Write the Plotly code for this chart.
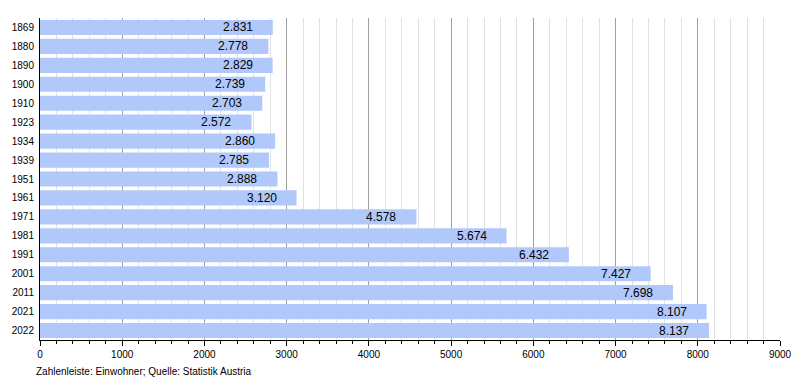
import plotly.graph_objects as go

years = ["1869", "1880", "1890", "1900", "1910", "1923", "1934", "1939", "1951",
         "1961", "1971", "1981", "1991", "2001", "2011", "2021", "2022"]
population = [2831, 2778, 2829, 2739, 2703, 2572, 2860, 2785, 2888,
              3120, 4578, 5674, 6432, 7427, 7698, 8107, 8137]
labels = [f"{v:,}".replace(",", ".") for v in population]
x_ticks = [0, 1000, 2000, 3000, 4000, 5000, 6000, 7000, 8000, 9000]

fig = go.Figure(go.Bar(
    y=years, x=population, orientation="h",
    marker=dict(color="#b1c8fa", line=dict(width=0)),
    hoverinfo="x+y",
))

# value labels: category index on the y axis, value on the x axis
for i, (x, t) in enumerate(zip(population, labels)):
    fig.add_annotation(
        x=x, y=i, xref="x", yref="y", text=t, showarrow=False,
        xanchor="right", yanchor="middle", xshift=-18,
        font=dict(family="Liberation Sans, Arial, sans-serif", size=12, color="black"),
    )

# page body has an 8px default margin, so the figure is sized/offset to compensate
fig.update_layout(
    width=792, height=372,
    margin=dict(l=32, r=20, t=10, b=40, autoexpand=False),
    plot_bgcolor="white", paper_bgcolor="white",
    bargap=0.2, showlegend=False,
    font=dict(family="Liberation Sans, Arial, sans-serif", size=10, color="black"),
)
fig.update_xaxes(
    range=[0, 9000], tickvals=x_ticks, ticktext=[str(t) for t in x_ticks],
    showgrid=True, gridcolor="#a0a0a0", gridwidth=1,
    showline=True, linecolor="black", linewidth=1,
    ticks="outside", ticklen=5, tickcolor="black",
    minor=dict(dtick=200, showgrid=True, gridcolor="#e2e2e2", ticks="outside",
               ticklen=3, tickcolor="black"),
    zeroline=False, tickfont=dict(size=10), automargin=False,
)
fig.update_yaxes(
    type="category", categoryorder="array", categoryarray=years,
    range=[len(years) - 0.5, -0.5], showline=True, linecolor="black", linewidth=1,
    ticks="", tickfont=dict(size=10), showgrid=False, automargin=False,
    ticklabelstandoff=3,
)
fig.add_annotation(
    text="Zahlenleiste: Einwohner; Quelle: Statistik Austria",
    xref="paper", yref="paper", x=-0.008, y=-0.075, xanchor="left", yanchor="top",
    showarrow=False, font=dict(size=10),
)
fig.write_html("out.html")
